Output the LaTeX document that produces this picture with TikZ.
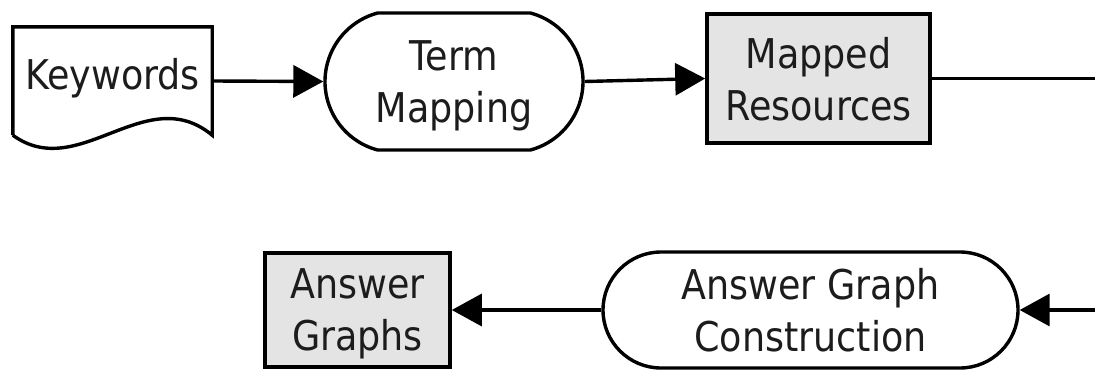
\documentclass[tikz,border=0pt]{standalone}
\usepackage{fontspec}
\setmainfont{DejaVu Sans}[FakeStretch=0.89]
\usetikzlibrary{arrows.meta,shapes.misc,calc}
\definecolor{boxgrey}{HTML}{E4E4E4}
\definecolor{ink}{HTML}{1C1C1C}
\tikzset{
  every node/.style={font=\fontsize{41}{52}\selectfont, text=ink, inner sep=0pt},
  flow/.style={line width=3.4pt, draw=black},
  flowarrow/.style={flow, -{Triangle[length=30pt,width=32pt]}},
  databox/.style={rectangle, draw=black, line width=3.6pt, fill=boxgrey,
                  align=center, text depth=0pt},
  terminal/.style={rounded rectangle, draw=black, line width=3.4pt, fill=white,
                   align=center, text depth=0pt},
}
\begin{document}
\begin{tikzpicture}[x=1pt, y=-1pt]
  \useasboundingbox (0,0) rectangle (1095,372);

  % input document
  \node[minimum width=199pt, minimum height=108pt, text height=26pt, text depth=10pt]
    (kw) at (112.5,81) {Keywords};
  \draw[line width=3.4pt, line join=miter]
    (kw.south west) -- (kw.north west) -- (kw.north east) -- (kw.south east)
    .. controls ($(kw.south west)+(133,-55)$) and ($(kw.south west)+(66,48)$) .. (kw.south west);

  % first row
  \node[terminal, rounded rectangle arc length=150,
        minimum width=258pt, minimum height=137pt] (tm) at (454,81.5) {Term\\Mapping};
  \node[databox, minimum width=223pt, minimum height=129pt] (mr) at (818.5,78.5) {Mapped\\Resources};

  % second row
  \node[databox, minimum width=185pt, minimum height=114pt] (ag) at (357.5,310) {Answer\\Graphs};
  \node[terminal, minimum width=415pt, minimum height=116pt] (agc) at (810.5,310) {Answer Graph\\Construction};

  % connectors leaving and entering at the right edge
  \coordinate (outR) at (1095,78.5);
  \coordinate (inR) at (1095,310);

  \draw[flowarrow] (kw.east) -- (tm.west);
  \draw[flowarrow] (tm.east) -- (mr.west);
  \draw[flow] (mr.east) -- (outR);
  \draw[flowarrow] (inR) -- (agc.east);
  \draw[flowarrow] (agc.west) -- (ag.east);
\end{tikzpicture}
\end{document}
